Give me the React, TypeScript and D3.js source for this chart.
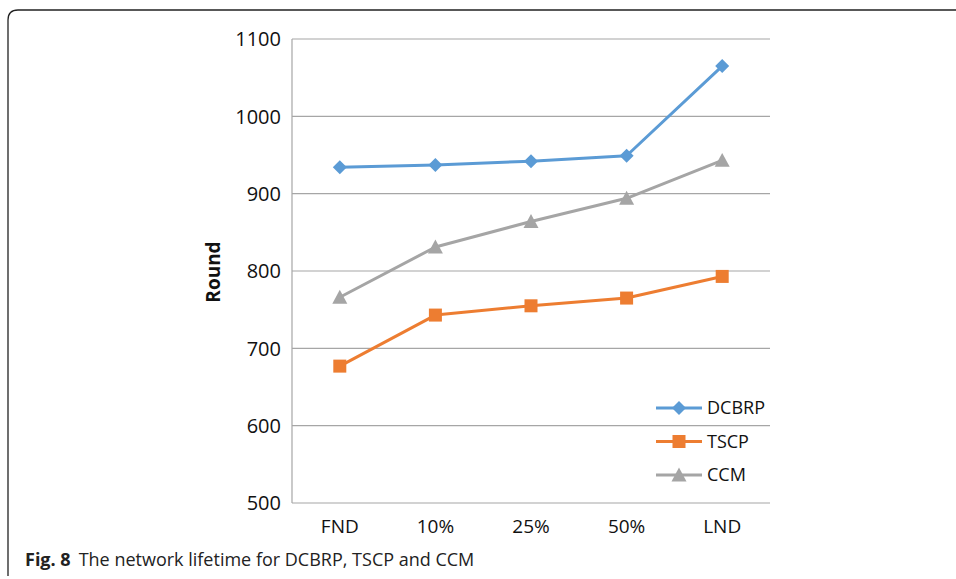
import React from "react";
import * as d3 from "d3";

const categories = ["FND", "10%", "25%", "50%", "LND"];
const dcbrp = [934, 937, 942, 949, 1065];
const tscp = [677, 743, 755, 765, 793];
const ccm = [766, 831, 864, 894, 943];
const yTicks = [500, 600, 700, 800, 900, 1000, 1100];

const seriesNames = ["DCBRP", "TSCP", "CCM"];
const seriesColors = ["#5b9bd5", "#ed7d31", "#a5a5a5"];

const W = 956, H = 579;
const left = 292, right = 770, top = 39, bottom = 503;

export default function App() {
  const x = d3.scaleBand<string>().domain(categories).range([left, right]);
  const y = d3.scaleLinear().domain([500, 1100]).range([bottom, top]);
  const line = d3.line<number>()
    .x((_, i) => (x(categories[i]) as number) + x.bandwidth() / 2)
    .y((d) => y(d));
  const allSeries = [dcbrp, tscp, ccm];
  const font = "'Open Sans', 'Noto Sans', sans-serif";

  const marker = (k: number, cx: number, cy: number, key: string) => {
    const c = seriesColors[k];
    if (k === 0) {
      const s = 7;
      return <path key={key} d={`M${cx},${cy - s}L${cx + s},${cy}L${cx},${cy + s}L${cx - s},${cy}Z`} fill={c} />;
    }
    if (k === 1) {
      const s = 6.5;
      return <rect key={key} x={cx - s} y={cy - s} width={2 * s} height={2 * s} fill={c} />;
    }
    const s = 7.5;
    return <path key={key} d={`M${cx},${cy - s}L${cx + s},${cy + s * 0.85}L${cx - s},${cy + s * 0.85}Z`} fill={c} />;
  };

  return (
    <svg width={W} height={H} style={{ position: "absolute", left: 0, top: 0 }}>
      <rect x={0} y={0} width={W} height={H} fill="#fff" />
      <path d={`M8,576 L8,20 Q8,10 18,10 L956,10`} fill="none" stroke="#222" strokeWidth={1.3} />
      {yTicks.map((t) => (
        <g key={t}>
          <line x1={left} x2={right} y1={y(t)} y2={y(t)} stroke="#a6a6a6" strokeWidth={1.2} />
          <text x={left - 11} y={y(t)} dy="0.36em" textAnchor="end" fontFamily={font} fontSize={20} fill="#111">{t}</text>
        </g>
      ))}
      <line x1={left} x2={left} y1={top} y2={bottom} stroke="#a6a6a6" strokeWidth={1.2} />
      {categories.map((c) => (
        <text key={c} x={(x(c) as number) + x.bandwidth() / 2} y={533} textAnchor="middle" fontFamily={font} fontSize={19} fill="#111">{c}</text>
      ))}
      <text transform={`translate(220,272) rotate(-90)`} textAnchor="middle" fontFamily={font} fontWeight="bold" fontSize={19} fill="#111">Round</text>
      {allSeries.map((s, k) => (
        <g key={k}>
          <path d={line(s) || ""} fill="none" stroke={seriesColors[k]} strokeWidth={3} strokeLinejoin="round" />
          {s.map((v, i) => marker(k, (x(categories[i]) as number) + x.bandwidth() / 2, y(v), `${k}-${i}`))}
        </g>
      ))}
      {seriesNames.map((n, k) => {
        const ly = 408 + k * 33.5;
        return (
          <g key={n}>
            <line x1={656} x2={702} y1={ly} y2={ly} stroke={seriesColors[k]} strokeWidth={3} />
            {marker(k, 679, ly, `leg-${k}`)}
            <text x={707} y={ly} dy="0.36em" fontFamily={font} fontSize={18} fill="#111">{n}</text>
          </g>
        );
      })}
      <text x={25} y={566} fontFamily={font} fontSize={18} fill="#222">
        <tspan fontWeight="bold">Fig. 8</tspan>
        <tspan dx={8}>The network lifetime for DCBRP, TSCP and CCM</tspan>
      </text>
    </svg>
  );
}
